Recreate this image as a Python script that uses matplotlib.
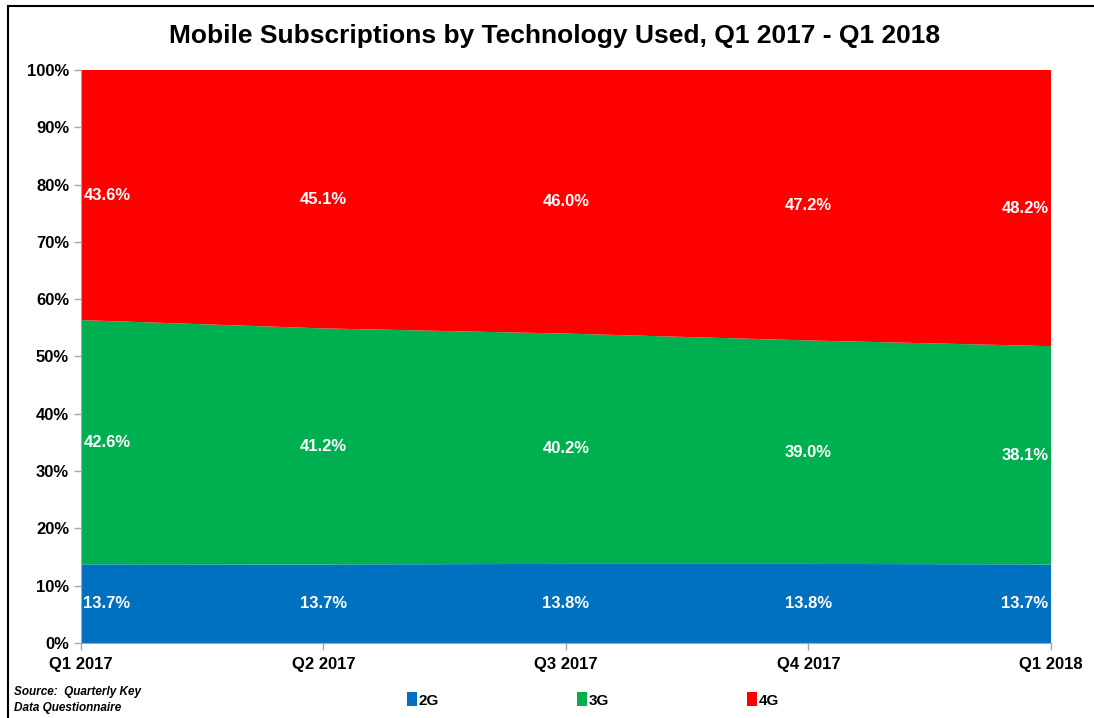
import numpy as np
import matplotlib.pyplot as plt
from matplotlib.patches import Patch
from matplotlib.lines import Line2D

quarters = ['Q1 2017', 'Q2 2017', 'Q3 2017', 'Q4 2017', 'Q1 2018']
share_2g = [13.7, 13.7, 13.8, 13.8, 13.7]
share_3g = [42.6, 41.2, 40.2, 39.0, 38.1]
share_4g = [43.6, 45.1, 46.0, 47.2, 48.2]
techs = ['2G', '3G', '4G']
colors = ['#0070C0', '#00B050', '#FF0000']

plt.rcParams['font.family'] = ['Liberation Sans', 'DejaVu Sans']

fig = plt.figure(figsize=(10.94, 7.18), dpi=100)
ax = fig.add_axes([0.074, 0.1045, 0.8867, 0.798])

x = np.arange(len(quarters))
data = np.array([share_2g, share_3g, share_4g])
# 100% stacked
norm = data / data.sum(axis=0) * 100
ax.stackplot(x, norm, colors=colors, linewidth=0)

# labels in the middle of each band
bottoms = np.vstack([np.zeros(len(x)), np.cumsum(norm, axis=0)[:-1]])
for k in range(3):
    for i in range(len(x)):
        ymid = bottoms[k, i] + norm[k, i] / 2
        if i == 0:
            ha, xo = 'left', x[i] + 0.01
        elif i == len(x) - 1:
            ha, xo = 'right', x[i] - 0.01
        else:
            ha, xo = 'center', x[i]
        ax.text(xo, ymid, f'{data[k, i]:.1f}%', ha=ha, va='center', color='white',
                fontsize=12, fontweight='bold')

ax.set_xlim(0, len(x) - 1)
ax.set_ylim(0, 100)
ax.set_yticks(np.arange(0, 101, 10))
ax.set_yticklabels([f'{v}%' for v in range(0, 101, 10)], fontsize=12, fontweight='bold')
ax.set_xticks(x)
ax.set_xticklabels(quarters, fontsize=12, fontweight='bold')
ax.tick_params(axis='both', colors='#A6A6A6', labelcolor='black', length=5, width=1)
ax.tick_params(axis='x', pad=5)
for s in ['top', 'right']:
    ax.spines[s].set_visible(False)
for s in ['left', 'bottom']:
    ax.spines[s].set_color('#A6A6A6')

fig.text(0.507, 1 - 36 / 718, 'Mobile Subscriptions by Technology Used, Q1 2017 - Q1 2018',
         ha='center', va='center', fontsize=19, fontweight='bold')

fig.text(14 / 1094, 1 - 692 / 718, 'Source:  Quarterly Key', fontsize=8.5,
         fontweight='bold', style='italic', va='center')
fig.text(14 / 1094, 1 - 708 / 718, 'Data Questionnaire', fontsize=8.5,
         fontweight='bold', style='italic', va='center')

handles = [Patch(facecolor=c, edgecolor='none') for c in colors]
fig.legend(handles, techs, loc='center', bbox_to_anchor=(0.542, 1 - 700 / 718), ncol=3,
           frameon=False, handlelength=0.7, handleheight=1.0, handletextpad=0.1,
           columnspacing=9.0, prop={'weight': 'bold', 'size': 11})

# frame lines of the cropped screenshot
fig.add_artist(Line2D([8 / 1094, 1], [1 - 6 / 718, 1 - 6 / 718], color='black', lw=1.5))
fig.add_artist(Line2D([8 / 1094, 8 / 1094], [0, 1 - 6 / 718], color='black', lw=1.5))

fig.savefig('out.png', dpi=100)
